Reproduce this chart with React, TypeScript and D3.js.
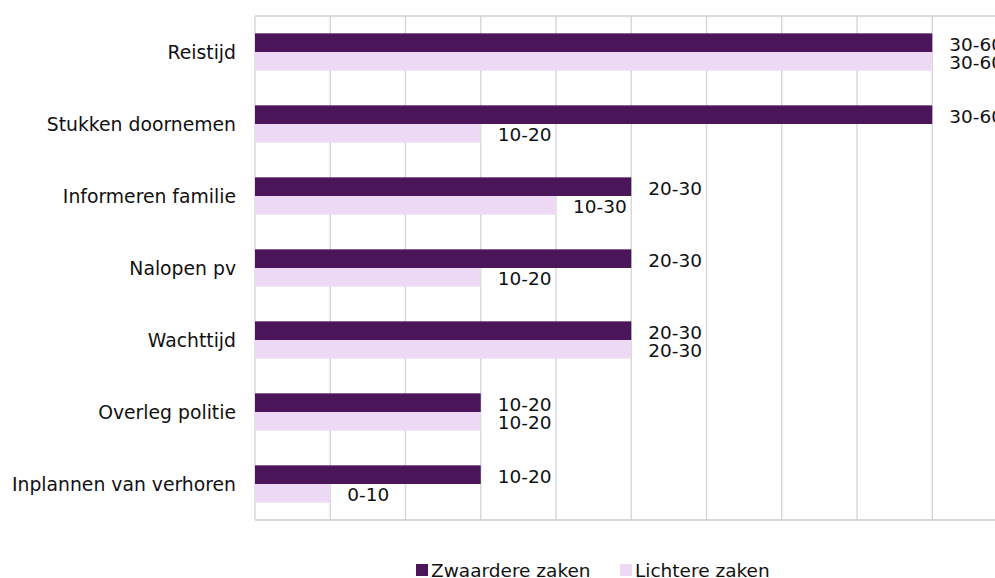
import React from "react";
import * as d3 from "d3";

const categories = [
  "Reistijd",
  "Stukken doornemen",
  "Informeren familie",
  "Nalopen pv",
  "Wachttijd",
  "Overleg politie",
  "Inplannen van verhoren",
];
// range labels per series
const zwaardereLabels = ["30-60", "30-60", "20-30", "20-30", "20-30", "10-20", "10-20"];
const lichtereLabels = ["30-60", "10-20", "10-30", "10-20", "20-30", "10-20", "0-10"];
// bar lengths in minutes (midpoint of the range)
const zwaardereValues = [45, 45, 25, 25, 25, 15, 15];
const lichtereValues = [45, 15, 20, 15, 25, 15, 5];
const xTicks = [0, 5, 10, 15, 20, 25, 30, 35, 40, 45, 50];
const seriesNames = ["Zwaardere zaken", "Lichtere zaken"];

const W = 995;
const H = 578;
const left = 255;
const top = 16;
const bottom = 520;
const colors = ["#4a1659", "#edd9f3"];
const font = "'DejaVu Sans', Verdana, sans-serif";
const fs = 18.5;

export default function App() {
  const x = d3.scaleLinear().domain([0, 50]).range([left, left + 752.5]);
  const y = d3.scaleBand<string>().domain(categories).range([top, bottom]).paddingInner(0).paddingOuter(0);
  const inner = d3.scaleBand<number>().domain([0, 1]).range([0, y.bandwidth()]).paddingInner(0).paddingOuter(0.93);
  const series = [
    { values: zwaardereValues, labels: zwaardereLabels },
    { values: lichtereValues, labels: lichtereLabels },
  ];
  const right = x(50);
  return (
    <svg width={W} height={H} style={{ position: "absolute", left: 0, top: 0, background: "#fff" }} fontFamily={font}>
      {xTicks.map((t) => (
        <line key={t} x1={x(t)} x2={x(t)} y1={top} y2={bottom} stroke="#d9d9d9" strokeWidth={1.5} />
      ))}
      <line x1={left} x2={right} y1={top} y2={top} stroke="#d0d0d0" strokeWidth={1.5} />
      <line x1={left} x2={right} y1={bottom} y2={bottom} stroke="#cccccc" strokeWidth={1.5} />
      {categories.map((c, i) => (
        <g key={c}>
          {series.map((s, si) => {
            const y0 = (y(c) as number) + (inner(si) as number);
            const h = inner.bandwidth();
            return (
              <g key={si}>
                <rect x={x(0)} y={y0} width={x(s.values[i]) - x(0)} height={h} fill={colors[si]} />
                <text x={x(s.values[i]) + 17} y={y0 + h / 2 + 1.5} dominantBaseline="central" fontSize={fs} fill="#111">
                  {s.labels[i]}
                </text>
              </g>
            );
          })}
          <text x={236} y={(y(c) as number) + y.bandwidth() / 2} textAnchor="end" dominantBaseline="central" fontSize={18.8} fill="#111">
            {c}
          </text>
        </g>
      ))}
      <g>
        <rect x={416} y={564} width={12} height={12} fill={colors[0]} />
        <text x={431} y={570} dominantBaseline="central" fontSize={fs} fill="#111">{seriesNames[0]}</text>
        <rect x={620} y={564} width={12} height={12} fill={colors[1]} />
        <text x={635} y={570} dominantBaseline="central" fontSize={fs} fill="#111">{seriesNames[1]}</text>
      </g>
    </svg>
  );
}
